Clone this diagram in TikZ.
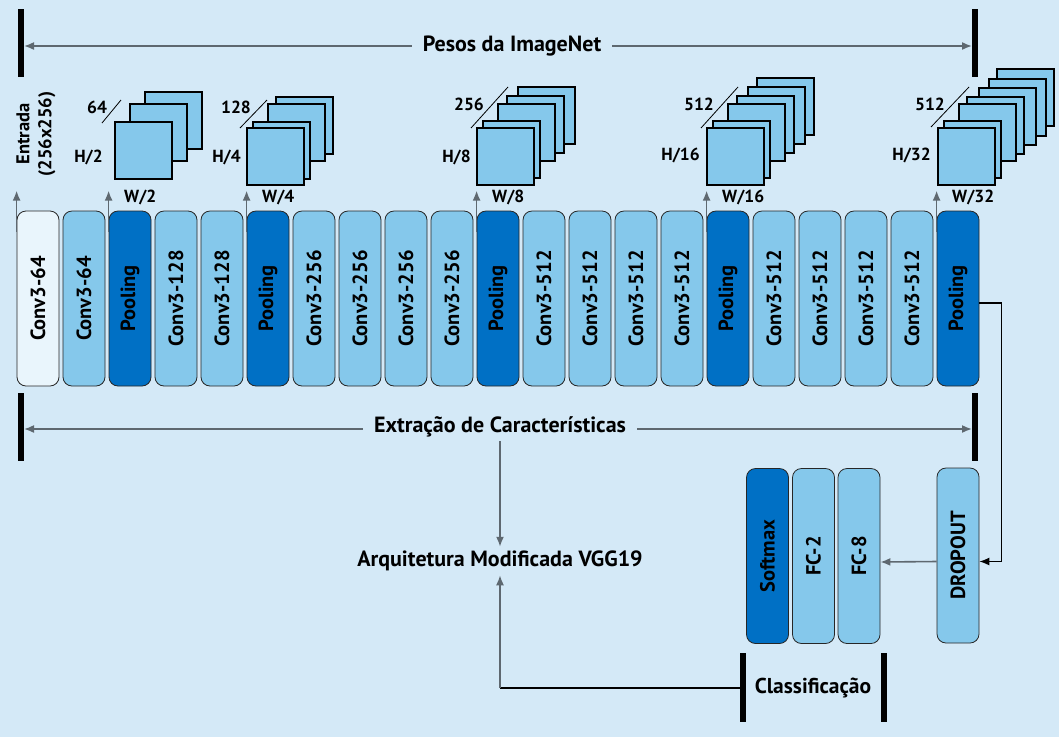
\documentclass[tikz,border=0pt]{standalone}
\usepackage{fontspec}
\setmainfont{PT Sans}
\usetikzlibrary{arrows.meta,calc}

\definecolor{bgblue}{HTML}{D4E9F7}
\definecolor{convblue}{HTML}{85C8EB}
\definecolor{poolblue}{HTML}{0070C5}
\definecolor{inblue}{HTML}{E9F5FC}
\definecolor{arrgray}{HTML}{5E6870}

\tikzset{
  layer/.style={draw=black!85, line width=0.8pt, rounded corners=9pt,
    minimum width=42pt, minimum height=175pt, inner sep=0pt,
    font=\bfseries\fontsize{20.5}{20.5}\selectfont},
  fmap/.style={draw=black, line width=1.2pt, fill=convblue},
  tip/.style={-{Latex[length=10pt,width=8pt]}},
  grayarr/.style={tip, draw=arrgray, line width=1.6pt},
  bar/.style={line width=6pt, black},
  lbl/.style={font=\bfseries\fontsize{17.5}{22}\selectfont, inner sep=0pt},
  title/.style={font=\bfseries\fontsize{22}{22}\selectfont, inner xsep=11pt, inner ysep=4pt},
}

\begin{document}
\begin{tikzpicture}[x=1pt,y=-1pt]
  \useasboundingbox[fill=bgblue] (0,0) rectangle (1059,737);

  % camadas convolucionais
  \node[layer, fill=inblue] (b0) at (38,298.5) {\rotatebox{90}{Conv3-64}};
  \foreach \fc/\lab [count=\i] in {convblue/Conv3-64, poolblue/Pooling,
      convblue/Conv3-128, convblue/Conv3-128, poolblue/Pooling,
      convblue/Conv3-256, convblue/Conv3-256, convblue/Conv3-256, convblue/Conv3-256, poolblue/Pooling,
      convblue/Conv3-512, convblue/Conv3-512, convblue/Conv3-512, convblue/Conv3-512, poolblue/Pooling,
      convblue/Conv3-512, convblue/Conv3-512, convblue/Conv3-512, convblue/Conv3-512, poolblue/Pooling}
    \node[layer, fill=\fc] (b\i) at (38+46*\i,298.5) {\rotatebox{90}{\lab}};

  \foreach \b in {0,2,5,10,15,20}
    \draw[grayarr] ($(b\b.north west)+(0,21)$) -- ($(b\b.north west)+(0,-20)$);

  \node[lbl, font=\bfseries\fontsize{18.5}{22}\selectfont, rotate=90, align=center] (entrada) at (36,134) {Entrada\\(256x256)};

  % mapas de caracteristicas
  \foreach \dx/\dy in {30/30,15/18,0/0}
    \draw[fmap] (115+\dx,122-\dy) rectangle +(57,57);
  \foreach \dx/\dy in {29/31,21/24,6/6,0/0}
    \draw[fmap] (247+\dx,128-\dy) rectangle +(57,57);
  \foreach \dx/\dy in {41/41,30/32,21/24,6/7,0/0}
    \draw[fmap] (477+\dx,128-\dy) rectangle +(57,57);
  \foreach \dx/\dy in {50/50,41/41,30/32,21/24,6/7,0/0}
    \draw[fmap] (707+\dx,128-\dy) rectangle +(57,57);
  \foreach \dx/\dy in {59/59,51/49,41/40,29/31,21/24,6/7,0/0}
    \draw[fmap] (938+\dx,128-\dy) rectangle +(57,57);

  \draw[line width=0.8pt] (102,123) -- (121,100);
  \draw[line width=0.8pt] (240,128) -- (267,100);
  \draw[line width=0.8pt] (471,128) -- (508,87);
  \draw[line width=0.8pt] (701,128) -- (738,87);
  \draw[line width=0.8pt] (931,127) -- (969,87);

  \node[lbl] (c64) at (97,107) {64};
  \node[lbl] (c128) at (236,107) {128};
  \node[lbl] (c256) at (469,104) {256};
  \node[lbl] (c512a) at (699,104) {512};
  \node[lbl] (c512b) at (930,104) {512};

  \node[lbl, anchor=east] (h2) at (103,157) {H/2};
  \node[lbl, anchor=east] (h4) at (241,157) {H/4};
  \node[lbl, anchor=east] (h8) at (471,157) {H/8};
  \node[lbl, anchor=east] (h16) at (700,155) {H/16};
  \node[lbl, anchor=east] (h32) at (931,155) {H/32};

  \node[lbl, anchor=west] (w2) at (124,197) {W/2};
  \node[lbl, anchor=west] (w4) at (262,197) {W/4};
  \node[lbl, anchor=west] (w8) at (492,197) {W/8};
  \node[lbl, anchor=west] (w16) at (722,197) {W/16};
  \node[lbl, anchor=west] (w32) at (952,197) {W/32};

  % pesos e extracao
  \draw[bar] (21,9) -- (21,77);
  \draw[bar] (975,9) -- (975,77);
  \node[title] (pesos) at (512,46) {Pesos da ImageNet};
  \coordinate (pl) at (24,46);
  \coordinate (pr) at (972,46);
  \draw[grayarr] (pesos.west) -- (pl);
  \draw[grayarr] (pesos.east) -- (pr);

  \draw[bar] (21,393) -- (21,461);
  \draw[bar] (975,393) -- (975,461);
  \node[title] (extr) at (500,427) {Extração de Características};
  \coordinate (el) at (24,429);
  \coordinate (er) at (972,429);
  \draw[grayarr] (extr.west |- el) -- (el);
  \draw[grayarr] (extr.east |- er) -- (er);

  \node[title] (arq) at (500,561) {Arquitetura Modificada VGG19};
  \draw[grayarr] (extr.south) -- (arq.north);

  % classificacao
  \node[layer, fill=poolblue] (soft) at (767.5,556) {\rotatebox{90}{Softmax}};
  \node[layer, fill=convblue] (fc2) at (813.5,556) {\rotatebox{90}{FC-2}};
  \node[layer, fill=convblue] (fc8) at (859,556) {\rotatebox{90}{FC-8}};
  \node[layer, fill=convblue] (drop) at (958,555.5) {\rotatebox{90}{DROPOUT}};

  \draw[tip, line width=1.2pt] ($(b20.east)+(0,4.5)$) -- ++(22,0) |- ($(drop.east)+(0,6)$);
  \draw[grayarr] ($(drop.west)+(0,6)$) -- ($(fc8.east)+(0,6)$);

  \draw[bar] (743,653) -- (743,722);
  \draw[bar] (884,653) -- (884,722);
  \node[title, font=\bfseries\fontsize{21.5}{21.5}\selectfont] (cls) at (813,688) {Classificação};
  \coordinate (clsbar) at (740,688);
  \draw[line width=1.2pt] (clsbar) -- (arq.south |- clsbar);
  \draw[grayarr] (arq.south |- clsbar) -- (arq.south);
\end{tikzpicture}
\end{document}
